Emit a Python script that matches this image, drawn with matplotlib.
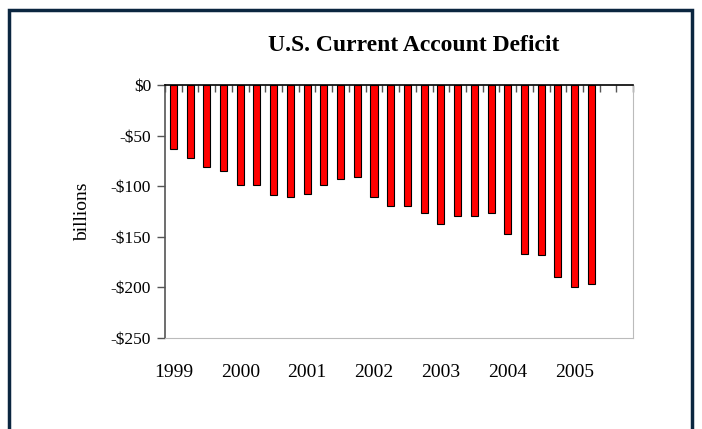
import matplotlib
matplotlib.use('Agg')
import matplotlib.pyplot as plt
from matplotlib.patches import Rectangle

# Квартальные данные, млрд $ (1999 Q1 - 2005 Q2)
quarters = ['1999Q1', '1999Q2', '1999Q3', '1999Q4',
            '2000Q1', '2000Q2', '2000Q3', '2000Q4',
            '2001Q1', '2001Q2', '2001Q3', '2001Q4',
            '2002Q1', '2002Q2', '2002Q3', '2002Q4',
            '2003Q1', '2003Q2', '2003Q3', '2003Q4',
            '2004Q1', '2004Q2', '2004Q3', '2004Q4',
            '2005Q1', '2005Q2', '2005Q3', '2005Q4']
deficit = [-63, -72, -81, -85, -99, -99, -109, -111,
           -108, -99, -93, -91, -111, -120, -120, -126,
           -137, -129, -129, -126, -147, -167, -168, -190,
           -200, -197]
years = ['1999', '2000', '2001', '2002', '2003', '2004', '2005']
y_ticks = [0, -50, -100, -150, -200, -250]
y_labels = ['$0', '-$50', '-$100', '-$150', '-$200', '-$250']

plt.rcParams['font.family'] = ['Liberation Serif', 'DejaVu Serif']

fig = plt.figure(figsize=(7.02, 4.29), dpi=100)
ax = fig.add_axes([0.235, 0.212, 0.667, 0.590])

x = list(range(len(deficit)))
ax.bar(x, deficit, width=0.42, color='#ff0000', edgecolor='black', linewidth=0.8, zorder=3)

ax.set_xlim(-0.5, len(quarters) - 0.5)
ax.set_ylim(-250, 0)

# подписи лет снизу, метки на оси сверху между кварталами
ax.set_xticks(range(0, len(quarters), 4))
ax.set_xticklabels(years, fontsize=14)
ax.set_xticks([i - 0.5 for i in range(len(quarters) + 1)], minor=True)
ax.tick_params(axis='x', which='major', bottom=True, top=False, length=0, pad=19)
ax.tick_params(axis='x', which='minor', bottom=False, top=True, direction='in',
               length=5, width=1, color='#555555')

ax.set_yticks(y_ticks)
ax.set_yticklabels(y_labels, fontsize=12.5)
ax.tick_params(axis='y', direction='out', length=6, width=1, color='#555555', pad=4)
ax.set_ylabel('billions', fontsize=14, labelpad=14)

ax.spines['top'].set_color('black')
ax.spines['top'].set_linewidth(1.2)
ax.spines['left'].set_color('#555555')
ax.spines['left'].set_linewidth(1.2)
ax.spines['bottom'].set_color('#bbbbbb')
ax.spines['right'].set_color('#bbbbbb')

fig.text(0.59, 0.893, 'U.S. Current Account Deficit', ha='center', va='center',
         fontsize=17, fontweight='bold')

# рамка вокруг картинки
frame = Rectangle((9 / 702, -0.2), (692 - 9) / 702, 1.2 - 10 / 429,
                  transform=fig.transFigure, fill=False,
                  edgecolor='#0b2640', linewidth=2.5)
fig.patches.append(frame)

fig.savefig('out.png', dpi=100)
